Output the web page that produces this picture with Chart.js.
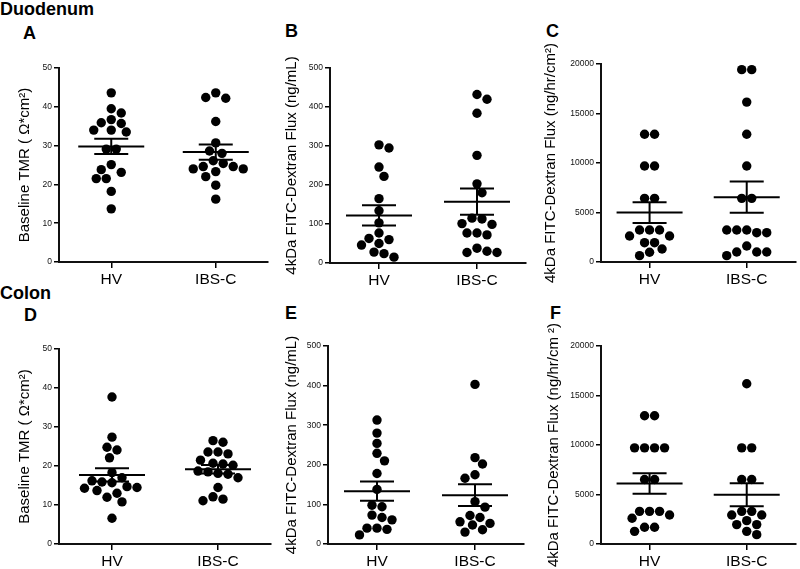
<!DOCTYPE html>
<html><head><meta charset="utf-8">
<script src="https://cdn.jsdelivr.net/npm/chart.js@4.4.1/dist/chart.umd.min.js"></script>
<style>
html,body{margin:0;padding:0;background:#fff;}
#wrap{position:relative;width:800px;height:569px;overflow:hidden;background:#fff;}
.lbl{position:absolute;font-weight:bold;color:#000;font-family:"Liberation Sans",Arial,sans-serif;font-size:18px;line-height:1;white-space:nowrap;}
canvas{position:absolute;}
</style></head><body>
<div id="wrap">
<div class="lbl" style="left:0;top:0">Duodenum</div>
<div class="lbl" style="left:23px;top:24px">A</div>
<div class="lbl" style="left:285px;top:22px">B</div>
<div class="lbl" style="left:546px;top:22px">C</div>
<div class="lbl" style="left:0;top:284px">Colon</div>
<div class="lbl" style="left:24px;top:306px">D</div>
<div class="lbl" style="left:285px;top:304px">E</div>
<div class="lbl" style="left:550px;top:304px">F</div>
</div>
<script>
// ---- data ----
const groups = ['HV', 'IBS-C'];
const duoTmrHV   = [43.6, 39.5, 38.4, 36.7, 35.7, 35.9, 34.0, 33.5, 34.0, 29.1, 29.1, 25.1, 23.8, 23.1, 21.5, 21.5, 18.2, 13.7];
const duoTmrIBSC = [43.6, 42.2, 42.4, 36.2, 30.7, 28.0, 28.6, 26.1, 24.6, 24.0, 23.3, 24.0, 24.6, 25.4, 22.0, 19.8, 16.2];
const duoFluxHV   = [303, 295, 246, 222, 165, 134, 103, 77, 63, 60, 50, 46, 28, 24, 15];
const duoFluxIBSC = [432, 420, 384, 276, 203, 180, 115, 113, 101, 99, 77, 77, 72, 38, 30, 27, 27];
const duoAreaHV   = [12900, 12900, 9700, 9700, 6430, 6430, 3230, 3230, 3230, 2630, 2630, 1950, 1950, 1310, 980, 640];
const duoAreaIBSC = [19430, 19430, 16150, 12900, 9700, 6430, 6430, 3230, 3230, 3230, 2960, 2960, 1620, 1010, 1010, 1010, 640];
const colTmrHV   = [37.7, 27.4, 24.8, 24.1, 22.1, 18.3, 17.0, 16.2, 15.7, 15.9, 14.5, 14.7, 13.7, 14.3, 13.0, 12.0, 10.8, 6.6];
const colTmrIBSC = [26.1, 26.5, 23.1, 23.6, 23.6, 21.5, 20.2, 20.7, 20.5, 18.5, 18.1, 18.7, 17.9, 17.0, 14.5, 12.1, 11.1, 11.5];
const colFluxHV   = [313, 280, 254, 229, 210, 178, 138, 94, 98, 67, 73, 61, 40, 37, 40, 23];
const colFluxIBSC = [403, 218, 202, 175, 166, 107, 93, 72, 67, 56, 52, 48, 36, 30];
const colAreaHV   = [12950, 12950, 9710, 9710, 9710, 9710, 6510, 6510, 3300, 3300, 3300, 2930, 2600, 1690, 1690, 1280];
const colAreaIBSC = [16190, 9710, 9710, 6510, 6510, 3300, 3300, 2930, 2930, 2360, 1960, 1960, 1280, 945];

const titleTmr = 'Baseline TMR ( \u03A9*cm\u00B2)';
const titleFlux = '4kDa FITC-Dextran Flux (ng/mL)';
const titleAreaC = '4kDa FITC-Dextran Flux (ng/hr/cm\u00B2)';
const titleAreaF = '4kDa FITC-Dextran Flux (ng/hr/cm \u00B2)';

// ---- layout (page px) ----
const panels = [
  {vals:[duoTmrHV, duoTmrIBSC],   yMax:50,    step:10,   title:titleTmr,   L:0,   T:50,  W:274, area:[59,68,268,262],   tx:25},
  {vals:[duoFluxHV, duoFluxIBSC], yMax:500,   step:100,  title:titleFlux,  L:270, T:50,  W:262, area:[330,68,526,263],  tx:291.5},
  {vals:[duoAreaHV, duoAreaIBSC], yMax:20000, step:5000, title:titleAreaC, L:536, T:30,  W:264, area:[601,64,799,262],  tx:550.5},
  {vals:[colTmrHV, colTmrIBSC],   yMax:50,    step:10,   title:titleTmr,   L:0,   T:330, W:277, area:[59,349,271,544],  tx:25},
  {vals:[colFluxHV, colFluxIBSC], yMax:500,   step:100,  title:titleFlux,  L:270, T:326, W:260, area:[328,346,524,544], tx:291.5},
  {vals:[colAreaHV, colAreaIBSC], yMax:20000, step:5000, title:titleAreaF, L:536, T:300, W:264, area:[601,346,799,544], tx:553.5}
];

const DOT_R = 4.7, DOT_D = 10, MEAN_HALF = 33, CAP_HALF = 17;
const TITLE_SIZE = 15, X_H = 30;
const FONT = '"Liberation Sans", Arial, sans-serif';

function stats(a){
  const n=a.length, m=a.reduce((s,v)=>s+v,0)/n;
  const sd=Math.sqrt(a.reduce((s,v)=>s+(v-m)*(v-m),0)/(n-1));
  return {m, sem: sd/Math.sqrt(n)};
}

// beeswarm: horizontal pixel offsets so dots do not overlap
function swarm(values, yPix, d){
  const n=values.length;
  const idx=values.map((v,i)=>i).sort((a,b)=>values[b]-values[a]);
  const Y=values.map(yPix);
  const placed=[]; const out=new Array(n).fill(0);
  const lim=d*0.98;
  const hits=(x,y,extra)=>{
    for(const p of placed) if(Math.hypot(p.x-x,p.y-y)<lim) return true;
    if(extra) for(const p of extra) if(Math.hypot(p.x-x,p.y-y)<lim) return true;
    return false;
  };
  const bias=(y,extra)=>{let s=0; for(const p of placed.concat(extra||[])) if(Math.abs(p.y-y)<2.5*d) s+=p.x; return s>0.01?-1:1;};
  let k=0;
  while(k<n){
    const cl=[idx[k]]; let j=k+1;
    while(j<n && Math.abs(Y[idx[j]]-Y[idx[k]])<=0.3*d){cl.push(idx[j]); j++;}
    const m=cl.length;
    let row=null, rowCost=Infinity;
    const pref=bias(Y[cl[0]]);
    for(const sp of (m>1?[1,1.25,1.5,2,2.5,3]:[1])){
      for(let t=0;t<=12;t++){
        for(const sg of (t?[pref,-pref]:[1])){
          const sh=sg*t*d/2;
          const xs=cl.map((_,i)=>(i-(m-1)/2)*d*sp+sh);
          const cost=Math.max(...xs.map(Math.abs))+0.001*t;
          if(cost>=rowCost) continue;
          let ok=true; for(let i=0;i<m&&ok;i++) if(hits(xs[i],Y[cl[i]])) ok=false;
          if(ok){rowCost=cost; row=xs;}
        }
      }
    }
    const ind=[]; const indPts=[];
    for(const id of cl){
      const y=Y[id]; const s0=bias(y,indPts);
      let x=0;
      for(let t=0;t<=40;t++){
        let found=false;
        for(const sg of (t?[s0,-s0]:[1])){ const xx=sg*t*d/4; if(!hits(xx,y,indPts)){x=xx;found=true;break;} }
        if(found) break;
      }
      ind.push(x); indPts.push({x,y});
    }
    const indCost=Math.max(...ind.map(Math.abs));
    const xs=(row && rowCost<=indCost+0.01)?row:ind;
    cl.forEach((id,i)=>{out[id]=xs[i]; placed.push({x:xs[i],y:Y[id]});});
    k=j;
  }
  return out;
}

const wrap=document.getElementById('wrap');
panels.forEach(p=>{
  const [cl,ct,cr,cb]=p.area;
  const H = cb - p.T + X_H + 2;
  const cv=document.createElement('canvas');
  cv.width=p.W; cv.height=H;
  cv.style.left=p.L+'px'; cv.style.top=p.T+'px';
  cv.style.width=p.W+'px'; cv.style.height=H+'px';
  wrap.appendChild(cv);
  const lh = TITLE_SIZE*1.2;
  const datasets=[];
  p.vals.forEach((arr,gi)=>{
    const c=gi+0.5, s=stats(arr);
    const seg=(a,b)=>({type:'line',data:[a,b],borderColor:'#000',borderWidth:2,pointRadius:0,fill:false,order:0});
    datasets.push(Object.assign(seg({x:c,y:s.m},{x:c,y:s.m}),{_kind:'mean',_c:c}));
    datasets.push(Object.assign(seg({x:c,y:s.m-s.sem},{x:c,y:s.m+s.sem}),{_kind:'vert',_c:c}));
    datasets.push(Object.assign(seg({x:c,y:s.m+s.sem},{x:c,y:s.m+s.sem}),{_kind:'cap',_c:c}));
    datasets.push(Object.assign(seg({x:c,y:s.m-s.sem},{x:c,y:s.m-s.sem}),{_kind:'cap',_c:c}));
  });
  p.vals.forEach((arr,gi)=>{
    datasets.push({type:'scatter',data:arr.map(v=>({x:gi+0.5,y:v})),pointRadius:DOT_R,pointHoverRadius:DOT_R,
      backgroundColor:'#000',borderWidth:0,order:1,_dots:true,_c:gi+0.5,_vals:arr});
  });
  const chart=new Chart(cv,{
    type:'scatter',
    data:{datasets},
    options:{
      responsive:false, animation:false, devicePixelRatio:1,
      layout:{padding:{left:0,top:ct-p.T,right:p.L+p.W-cr,bottom:2}},
      plugins:{legend:{display:false},tooltip:{enabled:false}},
      events:[],
      scales:{
        x:{type:'linear',min:0,max:2,
          afterBuildTicks:s=>{s.ticks=groups.map((g,i)=>({value:i+0.5}));},
          afterFit:s=>{s.height=X_H;},
          ticks:{callback:(v,i)=>groups[i],autoSkip:false,maxRotation:0,color:'#000',
            font:{family:FONT,size:15.5},padding:2},
          grid:{display:true,drawOnChartArea:false,drawTicks:true,tickLength:6,color:'#000',lineWidth:1.5},
          border:{display:true,color:'#111',width:2}
        },
        y:{type:'linear',min:0,max:p.yMax,
          afterFit:s=>{s.width=cl-p.L;},
          ticks:{stepSize:p.step,callback:v=>String(v),color:'#111',font:{family:FONT,size:8.5},padding:2},
          grid:{display:true,drawOnChartArea:false,drawTicks:true,tickLength:5,color:'#000',lineWidth:1.5},
          border:{display:true,color:'#111',width:2},
          title:{display:true,text:p.title,color:'#000',font:{family:FONT,size:TITLE_SIZE},
            padding:{top:p.tx-p.L-lh/2,bottom:0}}
        }
      }
    }
  });
  const xs=chart.scales.x, ys=chart.scales.y;
  const pxX = xs.getPixelForValue(1)-xs.getPixelForValue(0);
  chart.data.datasets.forEach(ds=>{
    if(ds._dots){
      const off=swarm(ds._vals, v=>ys.getPixelForValue(v), DOT_D);
      ds.data.forEach((pt,i)=>{pt.x=ds._c+off[i]/pxX;});
    } else if(ds._kind==='mean'){
      ds.data[0].x=ds._c-MEAN_HALF/pxX; ds.data[1].x=ds._c+MEAN_HALF/pxX;
    } else if(ds._kind==='cap'){
      ds.data[0].x=ds._c-CAP_HALF/pxX; ds.data[1].x=ds._c+CAP_HALF/pxX;
    }
  });
  chart.update('none');
});
</script>
</body></html>
